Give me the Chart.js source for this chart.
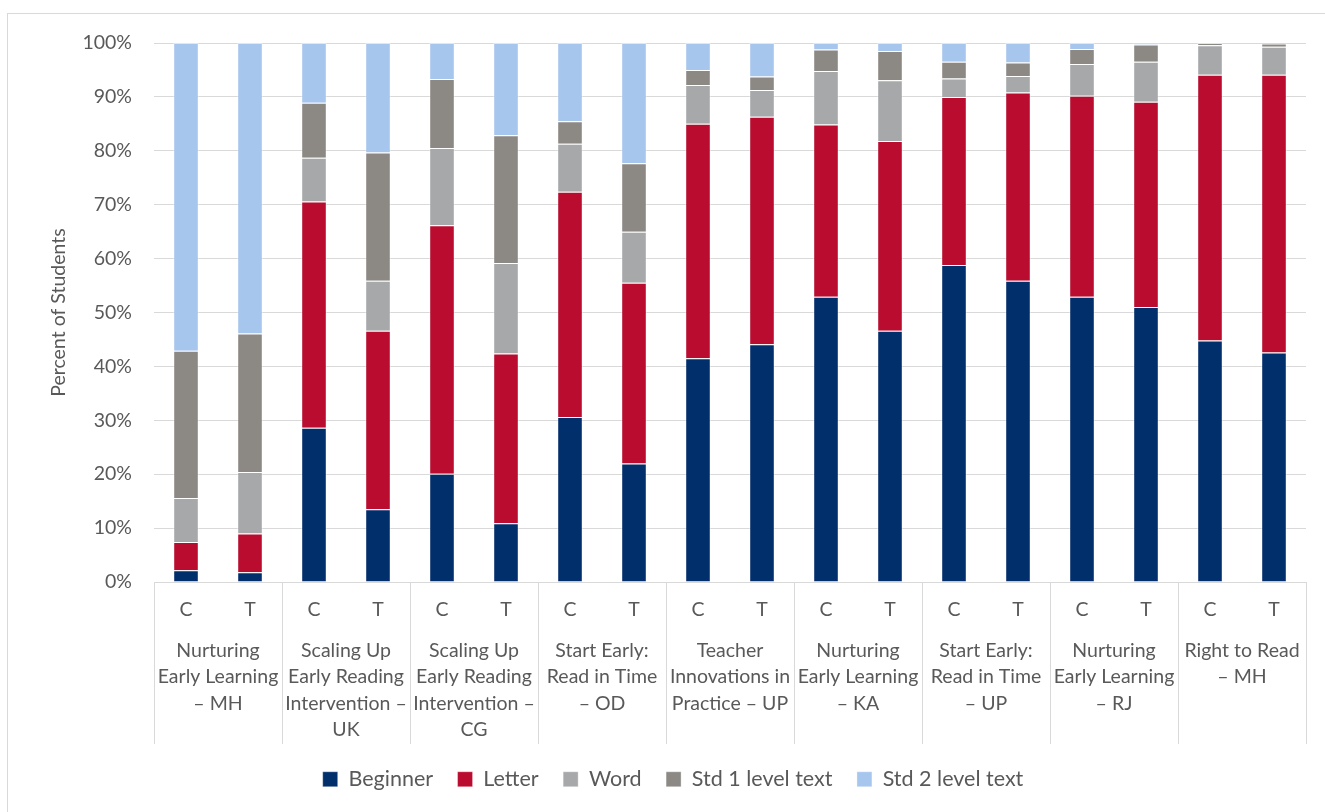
<!DOCTYPE html>
<html>
<head>
<meta charset="utf-8">
<script src="https://cdn.jsdelivr.net/npm/chart.js@4"></script>
<style>
  html, body { margin: 0; padding: 0; background: #fff; }
  #wrap { position: relative; width: 1325px; height: 812px; overflow: hidden; }
  #frame { position: absolute; left: 7px; top: 13px; width: 1400px; height: 900px; border-left: 1px solid #d9d9d9; border-top: 1px solid #d9d9d9; }
  canvas { position: absolute; left: 0; top: 0; }
</style>
</head>
<body>
<div id="wrap">
  <div id="frame"></div>
  <canvas id="c" width="1325" height="812"></canvas>
</div>
<script>
const groups = [
  ["Nurturing", "Early Learning", "\u2013 MH"],
  ["Scaling Up", "Early Reading", "Intervention \u2013", "UK"],
  ["Scaling Up", "Early Reading", "Intervention \u2013", "CG"],
  ["Start Early:", "Read in Time", "\u2013 OD"],
  ["Teacher", "Innovations in", "Practice \u2013 UP"],
  ["Nurturing", "Early Learning", "\u2013 KA"],
  ["Start Early:", "Read in Time", "\u2013 UP"],
  ["Nurturing", "Early Learning", "\u2013 RJ"],
  ["Right to Read", "\u2013 MH"]
];
const arms = ["C","T","C","T","C","T","C","T","C","T","C","T","C","T","C","T","C","T"];
const yTicks = [0,10,20,30,40,50,60,70,80,90,100];

const beginner = [2.2, 1.8, 28.6, 13.5, 20.1, 10.9, 30.6, 22.0, 41.5, 44.1, 52.9, 46.6, 58.8, 55.9, 52.9, 51.0, 44.8, 42.6];
const letter   = [5.2, 7.2, 42.0, 33.1, 46.1, 31.5, 41.8, 33.5, 43.5, 42.2, 32.0, 35.2, 31.2, 34.9, 37.3, 38.1, 49.3, 51.5];
const word     = [8.2, 11.4, 8.1, 9.3, 14.3, 16.8, 8.9, 9.5, 7.2, 5.0, 9.9, 11.3, 3.4, 3.1, 5.9, 7.4, 5.5, 5.2];
const std1     = [27.3, 25.7, 10.2, 23.8, 12.8, 23.7, 4.2, 12.7, 2.8, 2.5, 4.0, 5.4, 3.1, 2.5, 2.8, 3.2, 0.4, 0.6];
const std2     = [57.1, 53.9, 11.1, 20.3, 6.7, 17.1, 14.5, 22.3, 5.0, 6.2, 1.2, 1.5, 3.5, 3.6, 1.1, 0.3, 0.0, 0.1];

const FONT = "Lato, 'Open Sans', sans-serif";
const TXT = '#595959';
const GRID = '#d9d9d9';

const separators = {
  id: 'separators',
  afterDraw(chart) {
    const x2 = chart.scales.x2, ctx = chart.ctx;
    const area = chart.chartArea;
    const n = groups.length;
    const w = (area.right - area.left) / n;
    ctx.save();
    ctx.strokeStyle = GRID;
    ctx.lineWidth = 1;
    ctx.beginPath();
    for (let i = 0; i <= n; i++) {
      const px = Math.round(area.left + i * w) + 0.5;
      ctx.moveTo(px, area.bottom);
      ctx.lineTo(px, x2.bottom);
    }
    ctx.stroke();
    ctx.restore();
  }
};

function ds(label, data, color) {
  return { label, data, backgroundColor: color, borderColor: 'rgba(255,255,255,0.35)', borderWidth: 1, barPercentage: 0.4, categoryPercentage: 1.0, xAxisID: 'x' };
}

new Chart(document.getElementById('c'), {
  type: 'bar',
  data: {
    labels: arms,
    datasets: [
      ds('Beginner', beginner, '#002F6C'),
      ds('Letter', letter, '#BA0C2F'),
      ds('Word', word, '#A7A8AA'),
      ds('Std 1 level text', std1, '#8C8985'),
      ds('Std 2 level text', std2, '#A7C6ED')
    ]
  },
  options: {
    responsive: false,
    animation: false,
    devicePixelRatio: 1,
    layout: { padding: { left: 40, right: 19, top: 43, bottom: 12 } },
    plugins: {
      legend: {
        position: 'bottom',
        labels: {
          color: TXT,
          font: { family: FONT, size: 21.5 },
          boxWidth: 15, boxHeight: 15,
          padding: 24.5
        }
      },
      tooltip: { enabled: false }
    },
    scales: {
      x: {
        stacked: true,
        grid: { display: false },
        border: { display: true, color: GRID },
        ticks: { color: TXT, font: { family: FONT, size: 19.5 }, padding: 8, maxRotation: 0 },
        afterFit(s) { s.height = 48; }
      },
      x2: {
        type: 'category',
        labels: groups,
        offset: true,
        grid: { display: false },
        border: { display: false },
        ticks: { color: TXT, font: { family: FONT, size: 19.5, lineHeight: 1.34 }, padding: 0, maxRotation: 0, autoSkip: false },
        afterFit(s) { s.height = 114; }
      },
      y: {
        stacked: true,
        min: 0, max: 100,
        afterBuildTicks(s) { s.ticks = yTicks.map(v => ({ value: v })); },
        ticks: { color: TXT, font: { family: FONT, size: 19.5 }, padding: 22, callback: v => v + '%' },
        grid: { color: GRID, lineWidth: 1, drawTicks: false },
        border: { display: false },
        title: { display: true, text: 'Percent of Students', color: TXT, font: { family: FONT, size: 19.5 }, padding: { top: 7 } },
        afterFit(s) { s.width = 114; }
      }
    }
  },
  plugins: [separators]
});
</script>
</body>
</html>
